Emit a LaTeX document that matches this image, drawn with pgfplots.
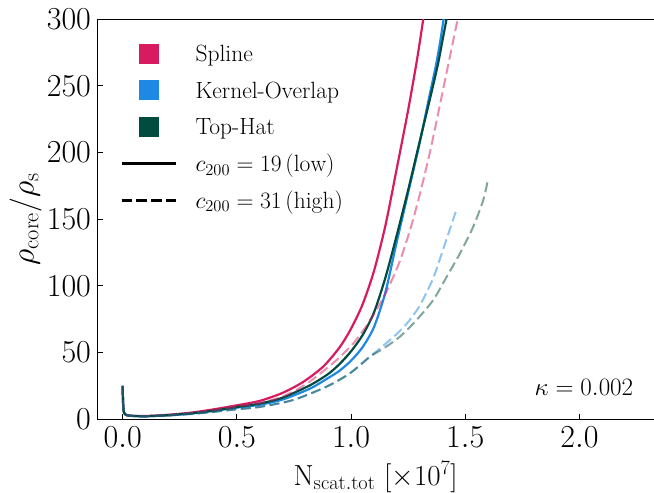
\RequirePackage{fix-cm}
\documentclass[border=0pt]{standalone}
\usepackage{fontspec}
\usepackage{pgfplots}
\pgfplotsset{compat=1.18}
\definecolor{cspline}{HTML}{D81B60}
\definecolor{ckernel}{HTML}{1E88E5}
\definecolor{ctophat}{HTML}{004D40}
\begin{document}
\begin{tikzpicture}
\useasboundingbox (-97.3pt,-73.7pt) rectangle (556.7pt,419.3pt);
\begin{axis}[
  scale only axis, width=556.7pt, height=400pt,
  xmin=-0.111, xmax=2.3263, ymin=0, ymax=300,
  axis x line*=box, axis y line*=left,
  axis line style={line width=1.2pt, black},
  xtick={0,0.5,1,1.5,2}, ytick={0,50,100,150,200,250,300},
  minor tick num=0,
  tick align=inside, xtick pos=left, ytick pos=left,
  major tick length=5.5pt,
  tick style={line width=1pt, black},
  xticklabel style={font=\fontsize{32}{38}\selectfont, inner sep=0pt, anchor=north, yshift=-7.4pt},
  yticklabel style={font=\fontsize{32}{38}\selectfont, inner sep=0pt, anchor=east, xshift=-6.2pt},
  x tick label style={/pgf/number format/.cd, fixed, fixed zerofill, precision=1},
  scaled x ticks=false,
  xlabel={$\mathrm{N}_{\mathrm{scat.tot}}\ [\times 10^{7}]$},
  xlabel style={font=\fontsize{29}{34}\selectfont, at={(axis description cs:0.5,-0.1055)}, anchor=north, inner sep=0pt},
  ylabel={$\rho_{\mathrm{core}}/\rho_{\mathrm{s}}$},
  ylabel style={font=\fontsize{32}{38}\selectfont, at={(axis description cs:-0.0999,0.5)}, rotate=0, anchor=south, inner sep=0pt},
  legend style={draw=none, fill=none, at={(axis description cs:0.0408,0.945)}, anchor=north west, inner sep=0pt, font=\fontsize{23.5}{28}\selectfont, row sep=12.7pt, column sep=18.5pt, nodes={inner sep=0pt, text height=20pt, text depth=4pt}},
  legend cell align=left,
  every axis plot/.append style={smooth, tension=0.45},
]
% Spline low (solid)
\addplot[cspline, line width=2.2pt, forget plot] coordinates {
(0,25) (0.002,12) (0.006,5) (0.02,3) (0.06,2.5) (0.12,2.6) (0.2,3.4) (0.3,5) (0.4,7.5) (0.5,10.5) (0.6,13.8) (0.7,19.8) (0.79,28) (0.878,39.5) (0.95,54) (1.0,68) (1.05,86) (1.1,111) (1.15,145) (1.2,188) (1.25,232) (1.29,271) (1.316,300) (1.322,307)};
% Kernel-Overlap low (solid)
\addplot[ckernel, line width=2.2pt, forget plot] coordinates {
(0,25) (0.002,12) (0.006,5) (0.02,3) (0.06,2.4) (0.12,2.4) (0.2,3) (0.3,4.3) (0.4,6.3) (0.5,8.8) (0.6,10.9) (0.7,14.8) (0.82,23) (0.9,31) (0.95,36.5) (1.0,44) (1.05,54) (1.1,69) (1.15,95) (1.2,133) (1.25,170) (1.3,207) (1.34,240) (1.37,264) (1.39,283) (1.405,300) (1.41,306)};
% Top-Hat low (solid)
\addplot[ctophat, line width=2.2pt, forget plot] coordinates {
(0,25) (0.002,12) (0.006,5) (0.02,3) (0.06,2.4) (0.12,2.4) (0.2,3.1) (0.3,4.5) (0.4,6.6) (0.5,9.2) (0.6,11.8) (0.7,16.2) (0.82,25.5) (0.9,34) (0.95,41.5) (1.0,51) (1.05,63) (1.1,80) (1.15,106) (1.2,138) (1.25,172) (1.3,208) (1.345,240) (1.38,266) (1.40,284) (1.419,301) (1.425,307)};
% Spline high (dashed)
\addplot[cspline, opacity=0.5, line width=2pt, dash pattern=on 10pt off 4.5pt, forget plot] coordinates {
(0,25) (0.002,12) (0.006,5) (0.02,3) (0.06,2.4) (0.12,2.4) (0.2,3) (0.3,4.5) (0.4,6.7) (0.5,9.5) (0.6,12.2) (0.7,17) (0.8,26) (0.87,35) (0.937,44.5) (1.01,57) (1.083,74) (1.15,94) (1.21,117) (1.26,143) (1.30,168) (1.345,200) (1.382,230) (1.411,254) (1.44,278) (1.468,301) (1.475,307)};
% Kernel-Overlap high (dashed)
\addplot[ckernel, opacity=0.5, line width=2pt, dash pattern=on 10pt off 4.5pt, forget plot] coordinates {
(0,25) (0.002,12) (0.006,5) (0.02,3) (0.06,2.3) (0.12,2.3) (0.2,2.9) (0.3,4) (0.4,5.6) (0.5,7.5) (0.601,9.3) (0.747,14.5) (0.893,24.5) (0.995,34.5) (1.083,47) (1.15,56.5) (1.2,64) (1.25,73) (1.3,85) (1.36,106) (1.41,131) (1.459,156)};
% Top-Hat high (dashed)
\addplot[ctophat, opacity=0.5, line width=2pt, dash pattern=on 10pt off 4.5pt, forget plot] coordinates {
(0,25) (0.002,12) (0.006,5) (0.02,3) (0.06,2.3) (0.12,2.3) (0.2,2.9) (0.3,4) (0.4,5.6) (0.5,7.5) (0.601,9.3) (0.747,14.5) (0.893,24.5) (0.995,34.5) (1.083,47) (1.141,53) (1.214,62) (1.287,74.5) (1.36,89.5) (1.419,107) (1.477,124.5) (1.535,144.5) (1.579,164.5) (1.598,178.7)};
\addlegendimage{legend image code/.code={\fill[cspline] (17.5pt,-9.5pt) rectangle (36.5pt,9.5pt);}}
\addlegendentry{Spline}
\addlegendimage{legend image code/.code={\fill[ckernel] (17.5pt,-9.5pt) rectangle (36.5pt,9.5pt);}}
\addlegendentry{Kernel-Overlap}
\addlegendimage{legend image code/.code={\fill[ctophat] (17.5pt,-9.5pt) rectangle (36.5pt,9.5pt);}}
\addlegendentry{Top-Hat}
\addlegendimage{legend image code/.code={\draw[black, line width=2.8pt] (0pt,0pt) -- (54pt,0pt);}}
\addlegendentry{$c_{200} = 19\,(\mathrm{low})$}
\addlegendimage{legend image code/.code={\draw[black, line width=2.8pt, dash pattern=on 10.3pt off 4.5pt] (0pt,0pt) -- (54pt,0pt);}}
\addlegendentry{$c_{200} = 31\,(\mathrm{high})$}
\node[anchor=base east, inner sep=0pt, font=\fontsize{25}{30}\selectfont] at (axis cs:2.236,17.5) {$\kappa = 0.002$};
\end{axis}
\end{tikzpicture}
\end{document}
